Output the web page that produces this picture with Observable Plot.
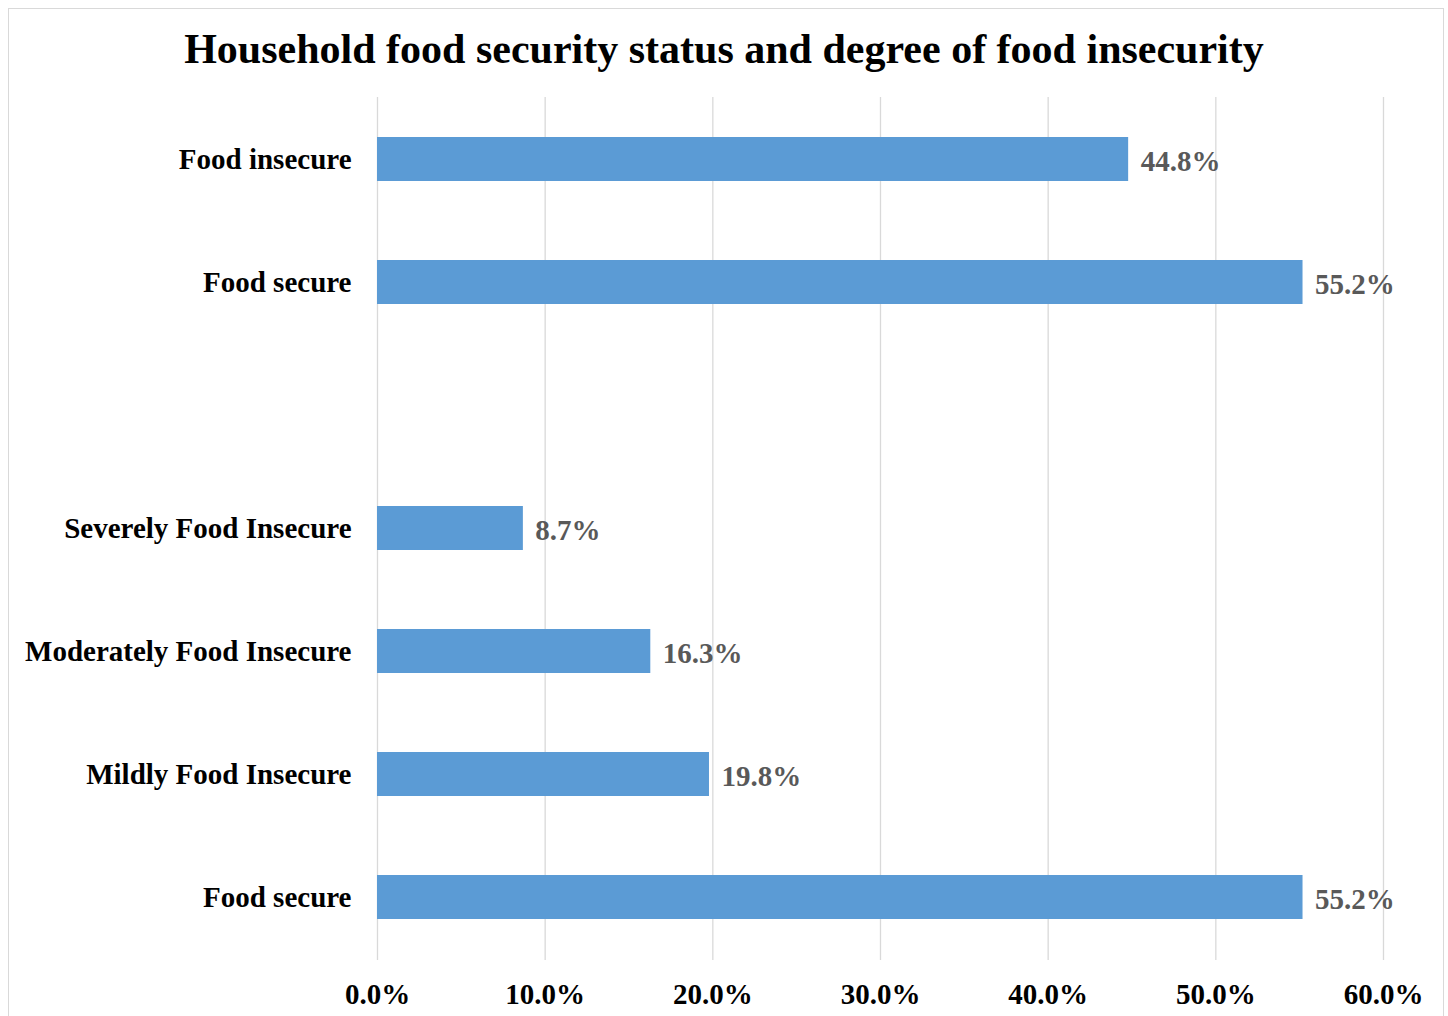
<!DOCTYPE html>
<html>
<head>
<meta charset="utf-8">
<script src="https://cdn.jsdelivr.net/npm/d3@7"></script>
<script src="https://cdn.jsdelivr.net/npm/@observablehq/plot@0.6"></script>
<style>
  html, body { margin: 0; padding: 0; background: #fff; }
  #wrap { position: relative; width: 1448px; height: 1016px; overflow: hidden; font-family: "Liberation Serif", "Times New Roman", serif; }
  #frame { position: absolute; left: 8px; top: 8px; width: 1436px; height: 1100px; border: 1px solid #d9d9d9; box-sizing: border-box; }
  #title { position: relative; height: 85px; line-height: 98px; text-align: center; font-weight: bold; font-size: 42px; color: #000; }
  #chart { position: relative; }
</style>
</head>
<body>
<div id="wrap">
  <div id="frame"></div>
  <div id="title">Household food security status and degree of food insecurity</div>
  <div id="chart"></div>
</div>
<script>
const keys = ["fi", "fs1", "gap", "sev", "mod", "mild", "fs2"];
const labels = ["Food insecure", "Food secure", "", "Severely Food Insecure", "Moderately Food Insecure", "Mildly Food Insecure", "Food secure"];
const barKeys = ["fi", "fs1", "sev", "mod", "mild", "fs2"];
const values = [44.8, 55.2, 8.7, 16.3, 19.8, 55.2];
const xTicks = [0, 10, 20, 30, 40, 50, 60];

const labelMap = new Map(keys.map((k, i) => [k, labels[i]]));
const data = barKeys.map((k, i) => ({key: k, value: values[i]}));
const fmt = d => d.toFixed(1) + "%";

const plot = Plot.plot({
  width: 1448,
  height: 931,
  marginTop: 12,
  marginBottom: 56,
  marginLeft: 377,
  marginRight: 65,
  style: {fontFamily: "'Liberation Serif', 'Times New Roman', serif", background: "transparent"},
  x: {domain: [0, 60], ticks: xTicks, label: null},
  y: {domain: keys, paddingInner: 0.64, paddingOuter: 0.32, label: null},
  marks: [
    Plot.gridX(xTicks, {stroke: "#d9d9d9", strokeOpacity: 1, strokeWidth: 1.3}),
    Plot.barX(data, {x: "value", y: "key", fill: "#5b9bd5"}),
    Plot.text(data, {x: "value", y: "key", text: d => fmt(d.value), textAnchor: "start", dx: 12, dy: 2, fill: "#595959", fontSize: 29, fontWeight: "bold"}),
    Plot.axisX(xTicks, {tickSize: 0, tickPadding: 23, tickFormat: fmt, fontSize: 29, fontWeight: "bold", fill: "#000", label: null}),
    Plot.axisY(keys, {tickSize: 0, tickPadding: 26, tickFormat: k => labelMap.get(k), fontSize: 29, fontWeight: "bold", fill: "#000", label: null})
  ]
});
document.getElementById("chart").appendChild(plot);
</script>
</body>
</html>
